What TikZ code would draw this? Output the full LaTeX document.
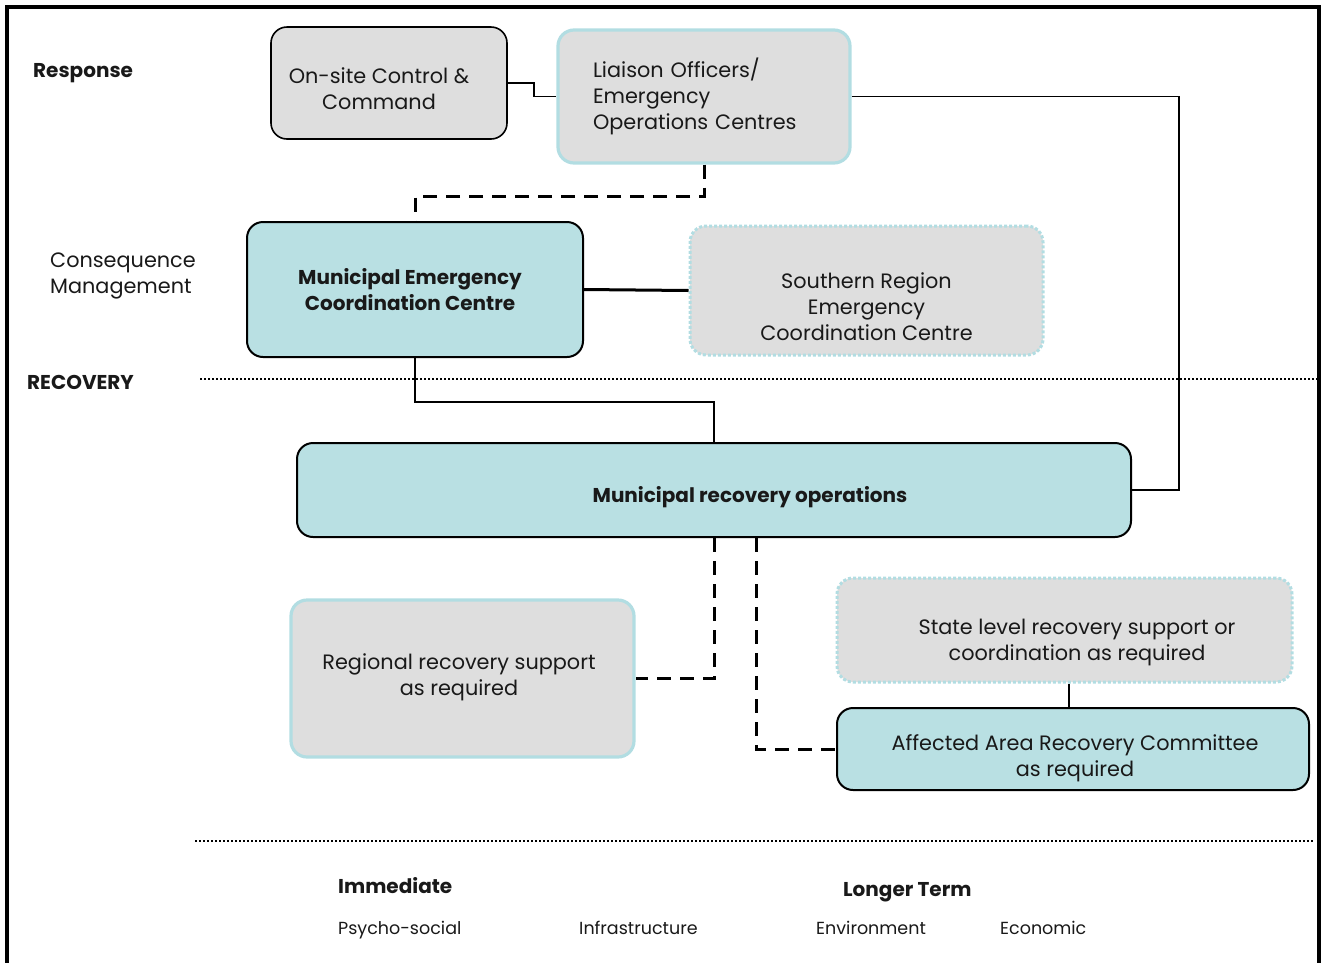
\documentclass[tikz,border=0pt]{standalone}
\usepackage{fontspec}
\setmainfont{Poppins}
\definecolor{boxgray}{HTML}{DEDEDE}
\definecolor{boxblue}{HTML}{B9E0E3}
\definecolor{edgeblue}{HTML}{B2DDE2}
\tikzset{
  every node/.style={font=\fontsize{20.8}{26}\selectfont, text=black!90},
  boldtext/.style={font=\fontsize{20}{26}\selectfont\bfseries},
  smalltext/.style={font=\fontsize{17.5}{22}\selectfont},
  box/.style={rounded corners=16pt, line width=1.6pt, inner sep=0pt},
  graysolid/.style={box, fill=boxgray, draw=black},
  grayblue/.style={box, fill=boxgray, draw=edgeblue, line width=3.2pt},
  graydot/.style={box, fill=boxgray, draw=edgeblue, line width=3pt, dash pattern=on 3pt off 2pt},
  bluebox/.style={box, fill=boxblue, draw=black, line width=2pt},
  conn/.style={line width=1.4pt},
  dashconn/.style={line width=3pt, dash pattern=on 14pt off 9pt},
  divider/.style={line width=2pt, dash pattern=on 2pt off 2pt},
  lbl/.style={anchor=base west, inner sep=0pt},
}
\begin{document}
\begin{tikzpicture}[x=1pt,y=-1pt]
\useasboundingbox (0,0) rectangle (1323,962);
% frame
\draw[line width=4pt] (7,990) -- (7,7) -- (1319,7) -- (1319,990);

% side labels
\node[lbl, boldtext] (resp) at (33,77) {Response};
\node[anchor=west, inner sep=0pt, align=left] (cons) at (50,276) {Consequence\\Management};
\node[lbl, boldtext] (recov) at (27,389) {RECOVERY};

% boxes
\node[graysolid, minimum width=236pt, minimum height=112pt] (onsite) at (389,83) {};
\node[align=center] (onsiteT) at (379,89) {On-site Control \&\\Command};
\node[grayblue, minimum width=292pt, minimum height=133pt, text width=222pt, align=left] (liaison) at (704,96.5) {Liaison Officers/\\Emergency\\Operations Centres};
\node[bluebox, minimum width=336pt, minimum height=135pt] (mec) at (415,289.5) {};
\node[align=center, boldtext] (mecT) at (410,290) {Municipal Emergency\\Coordination Centre};
\node[graydot, minimum width=353pt, minimum height=129pt] (southern) at (866.5,290.5) {};
\node[align=center] (southernT) at (866.5,307) {Southern Region\\Emergency\\Coordination Centre};
\node[bluebox, minimum width=834pt, minimum height=94pt] (mro) at (714,490) {};
\node[boldtext] (mroT) at (750,497) {Municipal recovery operations};
\node[grayblue, minimum width=343pt, minimum height=157pt] (regional) at (462.5,678.5) {};
\node[align=center] (regionalT) at (459,677) {Regional recovery support\\as required};
\node[graydot, minimum width=455pt, minimum height=104pt] (state) at (1064.5,630) {};
\node[align=center] (stateT) at (1077,642) {State level recovery support or\\coordination as required};
\node[bluebox, minimum width=472pt, minimum height=82pt] (affected) at (1073,749) {};
\node[align=center] (affectedT) at (1075,758) {Affected Area Recovery Committee\\as required};

% connectors
\coordinate (rj) at (1179,490);
\draw[conn] (onsite.east) -- ++(26,0) |- (liaison.west);
\draw[conn] (liaison.east) -| (rj) -- (mro.east);
\draw[dashconn] (liaison.south) -- ++(0,32) -| (mec.north);
\draw[line width=3pt] (mec.east) -- (southern.west);
\draw[conn] (mec.south) -- ++(0,44) -| (mro.north);
\draw[dashconn] (mro.south) |- (regional.east);
\draw[dashconn] ([xshift=42pt]mro.south) |- (affected.west);
\draw[conn] ([xshift=4.5pt]state.south) -- ([xshift=-4pt]affected.north);

% dividers
\draw[divider] (200,379) -- (1318,379);
\draw[divider] (195,841) -- (1313,841);

% bottom labels
\node[lbl, boldtext] (imm) at (338,893) {Immediate};
\node[lbl, boldtext] (longer) at (843,896) {Longer Term};
\node[lbl, smalltext] (psy) at (338,934) {Psycho-social};
\node[lbl, smalltext] (infra) at (579,934) {Infrastructure};
\node[lbl, smalltext] (env) at (816,934) {Environment};
\node[lbl, smalltext] (eco) at (1000,934) {Economic};
\end{tikzpicture}
\end{document}
